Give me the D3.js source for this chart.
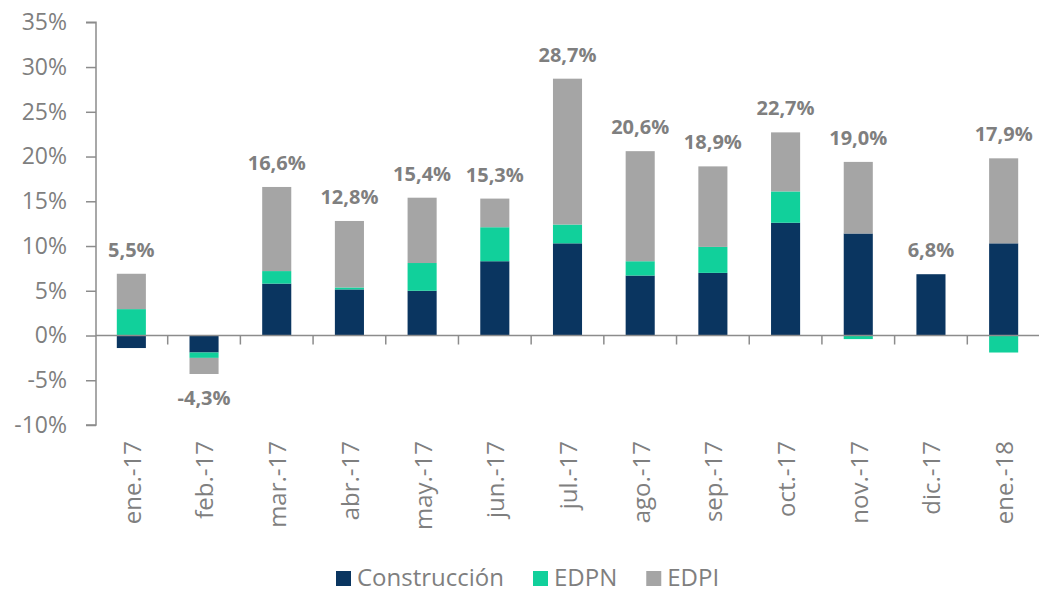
<!DOCTYPE html>
<html>
<head>
<meta charset="utf-8">
<script src="https://cdn.jsdelivr.net/npm/d3@7"></script>
<style>
  body { margin: 0; background: #fff; }
  svg text { font-family: "Open Sans", "Noto Sans", sans-serif; fill: #7f7f7f; }
  .axis path, .axis line { stroke: #8c8c8c; stroke-width: 1.5; }
</style>
</head>
<body>
<div id="chart"></div>
<script>
const months = ["ene.-17", "feb.-17", "mar.-17", "abr.-17", "may.-17", "jun.-17", "jul.-17",
  "ago.-17", "sep.-17", "oct.-17", "nov.-17", "dic.-17", "ene.-18"];
const construccion = [-1.4, -1.9, 5.8, 5.15, 5.0, 8.3, 10.3, 6.7, 7.0, 12.6, 11.4, 6.85, 10.3];
const edpn = [2.95, -0.6, 1.4, 0.22, 3.1, 3.8, 2.1, 1.6, 2.9, 3.5, -0.4, -0.05, -1.9];
const edpi = [3.95, -1.8, 9.4, 7.43, 7.3, 3.2, 16.3, 12.3, 9.0, 6.6, 8.0, 0, 9.5];
const totals = ["5,5%", "-4,3%", "16,6%", "12,8%", "15,4%", "15,3%", "28,7%",
  "20,6%", "18,9%", "22,7%", "19,0%", "6,8%", "17,9%"];
const seriesNames = ["Construcción", "EDPN", "EDPI"];
const yTicks = [-10, -5, 0, 5, 10, 15, 20, 25, 30, 35];

(function () {
  const W = 1039, H = 594;
  const colors = ["#0a3560", "#11d09b", "#a5a5a5"];

  const svg = d3.select("#chart").append("svg")
    .attr("width", W)
    .attr("height", H);

  const rows = months.map(function (m, i) {
    return { month: m, "Construcción": construccion[i], "EDPN": edpn[i], "EDPI": edpi[i] };
  });

  const x = d3.scaleBand().domain(months).range([95, 1040]).paddingInner(0.6).paddingOuter(0.3);
  const xb = d3.scaleBand().domain(months).range([95, 1040]); // band edges for ticks
  const y = d3.scaleLinear().domain([-10, 35]).range([425, 22.3]);

  const stack = d3.stack().keys(seriesNames).offset(d3.stackOffsetDiverging);
  const layers = stack(rows);

  // y axis
  const yAxis = svg.append("g")
    .attr("class", "axis")
    .attr("transform", "translate(96,0)")
    .call(d3.axisLeft(y).tickValues(yTicks).tickSize(10).tickPadding(19)
      .tickFormat(function (d) { return d + "%"; }));
  yAxis.select(".domain").attr("d", "M-10," + y(-10) + "H0V" + y(35) + "H-10");
  yAxis.selectAll("text").style("font-size", "23px").attr("fill", "#7f7f7f");

  // bars
  svg.append("g").selectAll("g")
    .data(layers)
    .join("g")
      .attr("fill", function (d, i) { return colors[i]; })
    .selectAll("rect")
    .data(function (d) { return d; })
    .join("rect")
      .attr("x", function (d) { return x(d.data.month); })
      .attr("width", x.bandwidth())
      .attr("y", function (d) { return y(Math.max(d[0], d[1])); })
      .attr("height", function (d) { return Math.abs(y(d[0]) - y(d[1])); });

  // zero line + category ticks
  const xAxis = svg.append("g").attr("class", "axis");
  xAxis.append("line")
    .attr("x1", 96).attr("x2", 1040)
    .attr("y1", y(0)).attr("y2", y(0));
  xAxis.selectAll(".tk")
    .data(months.slice(1))
    .join("line")
      .attr("class", "tk")
      .attr("x1", function (d) { return xb(d); })
      .attr("x2", function (d) { return xb(d); })
      .attr("y1", y(0)).attr("y2", y(0) + 9);

  // category labels
  svg.append("g").selectAll("text")
    .data(months)
    .join("text")
      .attr("transform", function (d) {
        return "translate(" + (xb(d) + xb.bandwidth() / 2 + 1) + ",441) rotate(-90)";
      })
      .attr("text-anchor", "end")
      .attr("dy", "0.35em")
      .style("font-size", "24px")
      .text(function (d) { return d; });

  // total labels
  svg.append("g").selectAll("text")
    .data(months)
    .join("text")
      .attr("x", function (d) { return x(d) + x.bandwidth() / 2; })
      .attr("y", function (d, i) {
        const pos = d3.sum([construccion[i], edpn[i], edpi[i]].filter(function (v) { return v > 0; }));
        const neg = d3.sum([construccion[i], edpn[i], edpi[i]].filter(function (v) { return v < 0; }));
        return pos + neg >= 0 ? y(pos) - 17 : y(neg) + 31;
      })
      .attr("text-anchor", "middle")
      .style("font-size", "20px")
      .style("font-weight", "bold")
      .text(function (d, i) { return totals[i]; });

  // legend
  const legend = svg.append("g").attr("transform", "translate(336,578)");
  let lx = 0;
  seriesNames.forEach(function (name, i) {
    const g = legend.append("g").attr("transform", "translate(" + lx + ",0)");
    g.append("rect").attr("x", 0).attr("y", -7).attr("width", 15).attr("height", 15).attr("fill", colors[i]);
    const t = g.append("text").attr("x", 21).attr("dy", "0.35em")
      .style("font-size", "24px").text(name);
    lx += 21 + t.node().getComputedTextLength() + 29;
  });
})();
</script>
</body>
</html>
